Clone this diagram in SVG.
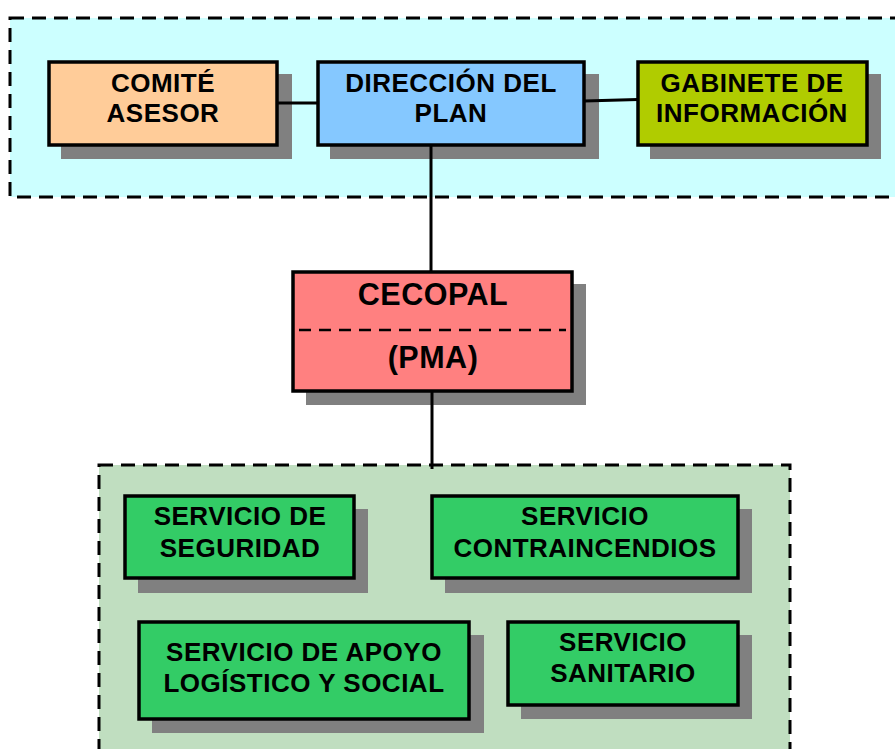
<svg xmlns="http://www.w3.org/2000/svg" width="895" height="749" viewBox="0 0 895 749">
<style>
.cont{stroke:#000;stroke-width:3;stroke-dasharray:14 8;}
.box{stroke:#000;stroke-width:3.5;}
.sh{fill:#808080;}
.t{font-family:"Liberation Sans",Arial,sans-serif;font-weight:bold;font-size:26px;fill:#000;text-anchor:middle;letter-spacing:0.5px;}
.big{font-size:30.5px;letter-spacing:0.5px;}
.ln{stroke:#000;stroke-width:3;fill:none;}
</style>
<rect width="895" height="749" fill="#fff"/>
<g id="top-container">
<rect class="cont" x="10" y="18" width="900" height="179" fill="#CCFFFF"/>
</g>
<g id="bottom-container">
<rect class="cont" x="99" y="465" width="691" height="300" fill="#C0DEC0"/>
</g>
<g id="comite">
<rect class="sh" x="61" y="74" width="231" height="85"/>
<rect class="box" x="49" y="62" width="228" height="83" fill="#FFCC99"/>
<text class="t" x="163" y="92">COMITÉ</text>
<text class="t" x="163" y="122">ASESOR</text>
</g>
<g id="direccion">
<rect class="sh" x="330" y="74" width="269" height="85"/>
<rect class="box" x="318" y="62" width="266" height="83" fill="#85C8FF"/>
<text class="t" x="451" y="92">DIRECCIÓN DEL</text>
<text class="t" x="451" y="122">PLAN</text>
</g>
<g id="gabinete">
<rect class="sh" x="650" y="74" width="231" height="85"/>
<rect class="box" x="638" y="62" width="229" height="83" fill="#B0CC00"/>
<text class="t" x="752" y="92">GABINETE DE</text>
<text class="t" x="752" y="122">INFORMACIÓN</text>
</g>
<g id="cecopal">
<rect class="sh" x="306" y="284" width="280" height="121"/>
<rect class="box" x="293" y="272" width="279" height="119" fill="#FF8080"/>
<line x1="299" y1="330" x2="566" y2="330" stroke="#000" stroke-width="2.5" stroke-dasharray="12 8"/>
<text class="t big" x="433" y="305">CECOPAL</text>
<text class="t big" x="433" y="368">(PMA)</text>
</g>
<g id="seguridad">
<rect class="sh" x="138" y="509" width="230" height="84"/>
<rect class="box" x="125" y="496" width="229" height="82" fill="#33CC66"/>
<text class="t" x="240" y="525">SERVICIO DE</text>
<text class="t" x="240" y="557">SEGURIDAD</text>
</g>
<g id="contraincendios">
<rect class="sh" x="445" y="509" width="307" height="84"/>
<rect class="box" x="432" y="496" width="306" height="82" fill="#33CC66"/>
<text class="t" x="585" y="525">SERVICIO</text>
<text class="t" x="585" y="557">CONTRAINCENDIOS</text>
</g>
<g id="apoyo">
<rect class="sh" x="152" y="635" width="332" height="98"/>
<rect class="box" x="139" y="622" width="330" height="97" fill="#33CC66"/>
<text class="t" x="304" y="661">SERVICIO DE APOYO</text>
<text class="t" x="304" y="692">LOGÍSTICO Y SOCIAL</text>
</g>
<g id="sanitario">
<rect class="sh" x="521" y="635" width="231" height="84"/>
<rect class="box" x="508" y="622" width="230" height="83" fill="#33CC66"/>
<text class="t" x="623" y="651">SERVICIO</text>
<text class="t" x="623" y="682">SANITARIO</text>
</g>
<g id="connectors">
<line class="ln" x1="277" y1="103" x2="318" y2="103"/>
<line class="ln" x1="584" y1="101" x2="638" y2="99.5"/>
<line class="ln" x1="431" y1="145" x2="431" y2="272"/>
<line class="ln" x1="432" y1="391" x2="432" y2="469"/>
</g>
</svg>
